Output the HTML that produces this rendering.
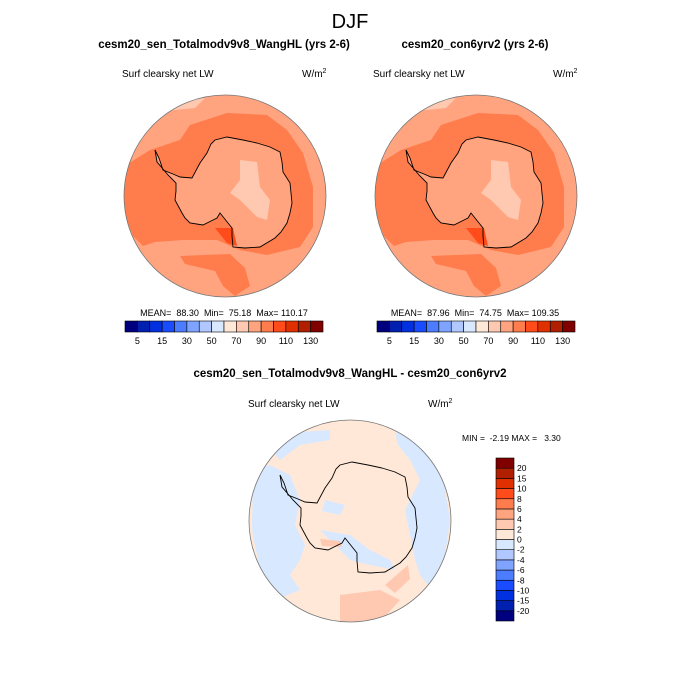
<!DOCTYPE html>
<html><head><meta charset="utf-8"><style>
body{margin:0;background:#fff}
svg{display:block;font-family:"Liberation Sans",sans-serif}
text{white-space:pre}
</style></head><body>
<svg id="fig" width="700" height="700" viewBox="0 0 700 700">
<defs>
<clipPath id="c1"><circle cx="0" cy="0" r="101"/></clipPath>
<path id="ant" d="M-70,-46 L-66,-38 L-62,-26 L-52,-22 L-45,-19 L-33,-18 L-25,-33 L-18,-43 L-14,-52 L-10,-56 L2,-59 L18,-56 L32,-53 L45,-49 L55,-44 L57,-34 L58,-24 L65,-13 L67,7 L65,17 L62,27 L56,36 L50,42 L35,51 L20,52 L8,51 L7,40 L7,32 L-5,17 L-8,22 L-12,24 L-22,29 L-35,27 L-40,22 L-43,17 L-50,4 L-49,-5 L-49,-13 L-57,-21 L-62,-27 L-68,-34 Z"/>
</defs>
<text x="350" y="28" font-size="20" text-anchor="middle">DJF</text>
<text x="224" y="48" font-size="11.5" font-weight="bold" text-anchor="middle">cesm20_sen_Totalmodv9v8_WangHL (yrs 2-6)</text>
<text x="475" y="48" font-size="11.5" font-weight="bold" text-anchor="middle">cesm20_con6yrv2 (yrs 2-6)</text>
<text x="122" y="77" font-size="10">Surf clearsky net LW</text>
<text x="302" y="77" font-size="10">W/m<tspan dy="-4" font-size="7">2</tspan></text>
<text x="373" y="77" font-size="10">Surf clearsky net LW</text>
<text x="553" y="77" font-size="10">W/m<tspan dy="-4" font-size="7">2</tspan></text>

<g id="maps"></g>

<text x="350" y="377" font-size="11.5" font-weight="bold" text-anchor="middle">cesm20_sen_Totalmodv9v8_WangHL - cesm20_con6yrv2</text>
<text x="248" y="407" font-size="10">Surf clearsky net LW</text>
<text x="428" y="407" font-size="10">W/m<tspan dy="-4" font-size="7">2</tspan></text>
<text x="462" y="441" font-size="8.5">MIN =  -2.19 MAX =   3.30</text>

<text x="224" y="316" font-size="9" text-anchor="middle">MEAN=  88.30  Min=  75.18  Max= 110.17</text>
<text x="475" y="316" font-size="9" text-anchor="middle">MEAN=  87.96  Min=  74.75  Max= 109.35</text>
<g id="bars"></g>
</svg>
<script>
var palette=["#00007f","#0020b0","#0030e0","#1a4cff","#4c7cff","#7fa4ff","#b0c8ff","#d8e8ff","#ffe8d8","#ffc8b0","#ffa47f","#ff7c4c","#ff4c1a","#e03000","#b02000","#800000"];
var absLevels=[5,10,15,20,30,40,50,60,70,80,90,100,110,120,130];
var absTickLabels=["5","15","30","50","70","90","110","130"];
var diffLevels=[-20,-15,-10,-8,-6,-4,-2,0,2,4,6,8,10,15,20];
var panelCenters=[[225,196],[476,196],[350,521]];
var NS="http://www.w3.org/2000/svg";
function mk(tag,attrs,parent){var e=document.createElementNS(NS,tag);for(var k in attrs)e.setAttribute(k,attrs[k]);parent.appendChild(e);return e;}

var maps=document.getElementById('maps');
var band="M-102,-29 L-75,-46 L-45,-56 L-35,-71 L2,-83 L42,-81 L62,-66 L78,-43 L88,-9 L88,31 L75,51 L42,59 L15,54 L-8,44 L-42,44 L-70,46 L-82,50 L-92,40 L-102,14 Z";
var band2="M-45,60 L5,58 L20,72 L25,90 L10,100 L-2,90 L-10,75 L-40,68 Z";
var light="M15,-36 L32,-34 L35,-9 L45,4 L42,24 L32,21 L15,4 L5,-3 L15,-16 Z";
var red="M-10,32 L8,32 L12,50 L2,47 Z";
for(var i=0;i<2;i++){
  var c=panelCenters[i];
  var g=mk('g',{transform:'translate('+c[0]+','+c[1]+')'},maps);
  
  
  var cg=mk('g',{'clip-path':'url(#c1)'},g);
  mk('circle',{cx:0,cy:0,r:101,fill:palette[10]},cg);
  mk('path',{d:band,fill:palette[11]},cg);
  mk('path',{d:band2,fill:palette[11]},cg);
  mk('path',{d:"M-55,-95 L-20,-98 L-30,-88 L-60,-85 Z",fill:palette[9]},cg);
  mk('use',{href:'#ant',fill:palette[10]},cg);
  mk('path',{d:light,fill:palette[9]},cg);
  mk('path',{d:red,fill:palette[12]},cg);
  var co=mk('use',{href:'#ant',fill:'none',stroke:'#000','stroke-width':0.9},g);
  
  
  mk('circle',{cx:0,cy:0,r:101,fill:'none',stroke:'#777','stroke-width':0.8},g);
}
(function(){
  var c=panelCenters[2];
  var g=mk('g',{transform:'translate('+c[0]+','+c[1]+')'},maps);
  
  
  var cg=mk('g',{'clip-path':'url(#c1)'},g);
  mk('circle',{cx:0,cy:0,r:101,fill:palette[8]},cg);
  var blues=["M45,-89 L70,-81 L90,-61 L100,-1 L93,49 L78,64 L70,54 L65,39 L62,24 L55,-11 L70,-41 L60,-61 L48,-76 Z",
   "M-97,-51 L-80,-56 L-60,-46 L-50,-21 L-55,4 L-45,24 L-50,39 L-60,54 L-50,69 L-75,79 L-90,49 L-98,9 Z",
   "M-85,-76 L-50,-89 L-20,-91 L-20,-81 L-50,-76 L-70,-61 Z",
   "M-30,9 L0,14 L20,29 L40,39 L45,49 L20,44 L0,39 L-15,24 Z",
   "M-25,-21 L-5,-16 L-10,-6 L-28,-10 Z"];
  blues.forEach(function(d){mk('path',{d:d,fill:palette[7]},cg);});
  mk('path',{d:"M-10,74 L30,69 L50,79 L30,101 L-10,101 Z",fill:palette[9]},cg);
  mk('path',{d:"M35,64 L58,44 L60,58 L45,72 Z",fill:palette[9]},cg);
  mk('path',{d:"M-30,18 L-10,20 L-8,26 L-28,25 Z",fill:palette[9]},cg);
  var co=mk('use',{href:'#ant',fill:'none',stroke:'#000','stroke-width':0.9},g);
  
  
  mk('circle',{cx:0,cy:0,r:101,fill:'none',stroke:'#777','stroke-width':0.8},g);
})();

var bars=document.getElementById('bars');
function hbar(x0,y0,w,h,idx){
  var n=absLevels.length+1,bw=w/n;
  var g=mk('g',{},bars);
  
  
  for(var k=0;k<n;k++){
    var r=mk('rect',{x:x0+k*bw,y:y0,width:bw,height:h,fill:palette[k],stroke:'#000','stroke-width':0.6},g);
    
    
  }
  for(var j=0;j<absTickLabels.length;j++){
    var t=mk('text',{x:x0+(1+2*j)*bw,y:y0+h+12,'font-size':9,'text-anchor':'middle'},g);
    
    
    t.textContent=absTickLabels[j];
  }
}
hbar(125,321,198,11,1);
hbar(377,321,198,11,2);
(function(){
  var x0=496,y0=458,w=18,H=163,n=diffLevels.length+1,bh=H/n;
  var g=mk('g',{},bars);
  
  
  for(var k=0;k<n;k++){
    var r=mk('rect',{x:x0,y:y0+(n-1-k)*bh,width:w,height:bh,fill:palette[k],stroke:'#000','stroke-width':0.6},g);
    
    
  }
  for(var j=0;j<diffLevels.length;j++){
    var t=mk('text',{x:x0+w+3,y:y0+(n-1-j)*bh+3,'font-size':8.5},g);
    
    
    t.textContent=String(diffLevels[j]);
  }
})();
</script>
</body></html>
